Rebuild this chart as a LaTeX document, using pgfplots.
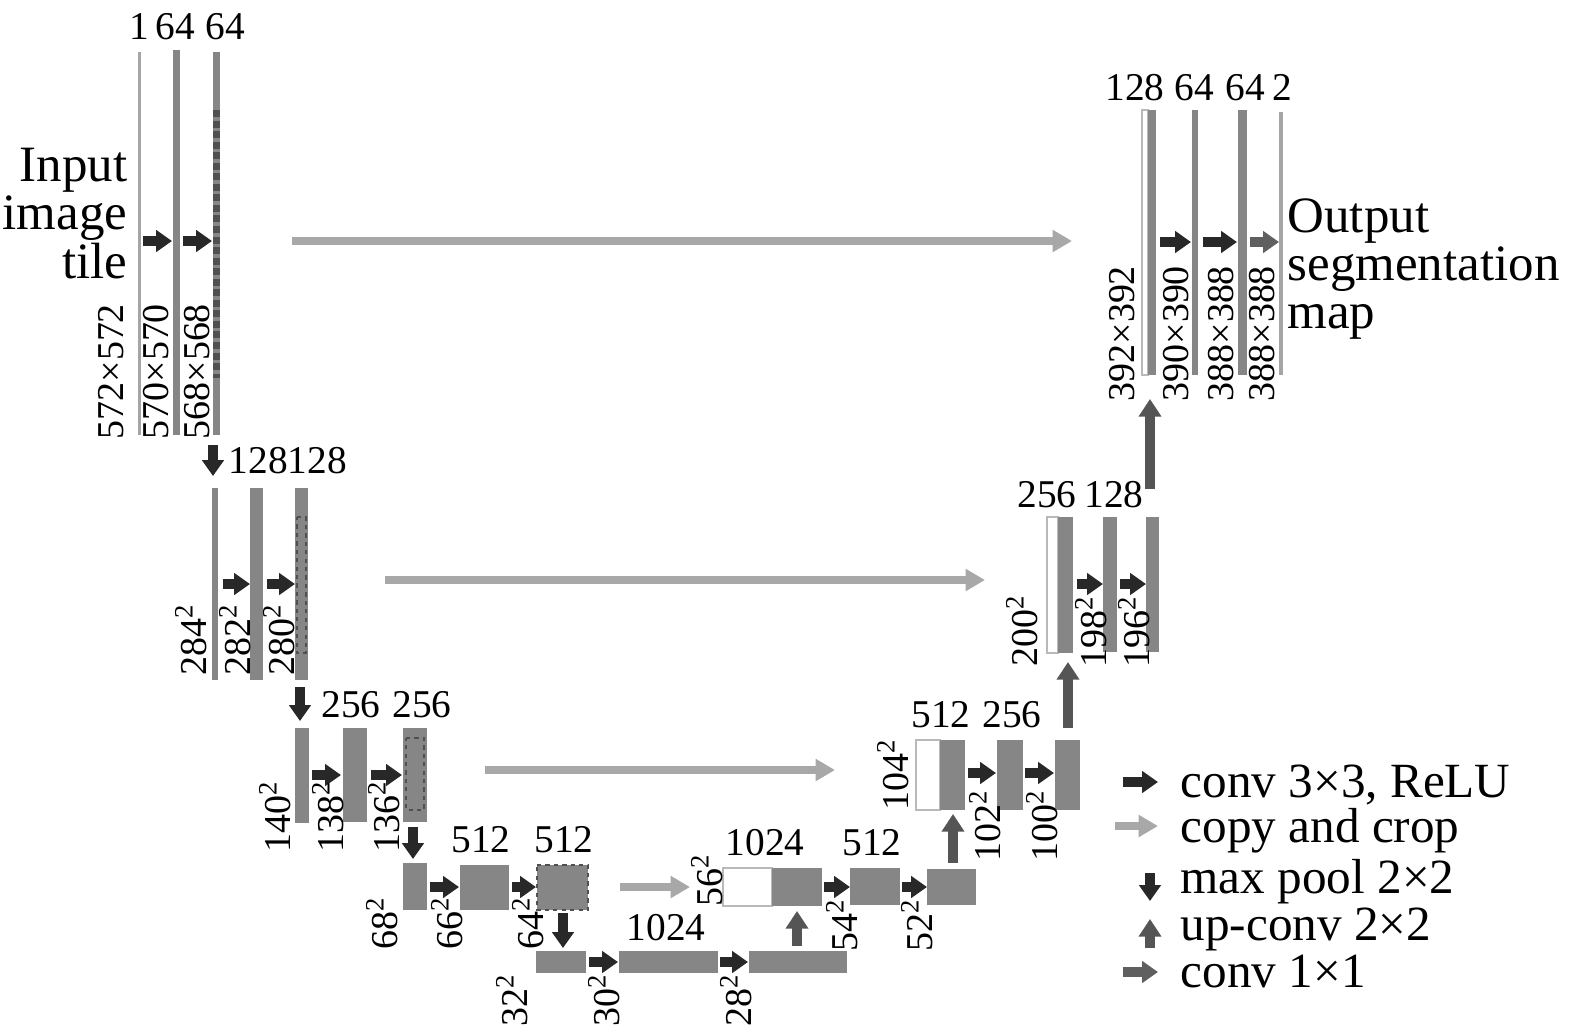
\documentclass[border=0pt]{standalone}
\usepackage{pgfplots}
\pgfplotsset{compat=1.18}
\usepackage{fontspec}
\setmainfont{Liberation Serif}
\usetikzlibrary{arrows.meta}

\definecolor{barc}{RGB}{134,134,134}
\definecolor{thinc}{RGB}{165,165,165}
\definecolor{convc}{RGB}{40,40,40}
\definecolor{copyc}{RGB}{168,168,168}
\definecolor{upc}{RGB}{85,85,85}
\definecolor{oneonec}{RGB}{95,95,95}
\definecolor{edgec}{RGB}{185,185,185}
\definecolor{dashc}{RGB}{80,80,80}

\newcommand{\fsnum}{\fontsize{11.2pt}{13pt}\selectfont}
\newcommand{\fsrot}{\fontsize{10.8pt}{13pt}\selectfont}
\newcommand{\fsbig}{\fontsize{14.5pt}{17pt}\selectfont}
\newcommand{\fsleg}{\fontsize{14pt}{17pt}\selectfont}

% block: [fill] x1 x2 y1 y2 (pixel coordinates, y downwards)
\newcommand{\blk}[5][barc]{\addplot[fill=#1,draw=none] coordinates {(#2,#4) (#3,#4) (#3,#5) (#2,#5)} -- cycle;}
\newcommand{\wblk}[4]{\addplot[fill=white,draw=edgec,line width=0.6pt] coordinates {(#1,#3) (#2,#3) (#2,#4) (#1,#4)} -- cycle;}
\newcommand{\dblk}[4]{\addplot[draw=dashc,line width=0.7pt,dash pattern=on 1.2pt off 1.2pt] coordinates {(#1,#3) (#2,#3) (#2,#4) (#1,#4)} -- cycle;}
% arrows
\newcommand{\conv}[4][convc]{\addplot[#1,line width=2.6pt,-{Triangle[width=6pt,length=4.5pt]}] coordinates {(#2,#4) (#3,#4)};}
\newcommand{\copyarr}[3]{\addplot[copyc,line width=2.4pt,-{Triangle[width=6pt,length=5.5pt]}] coordinates {(#1,#3) (#2,#3)};}
\newcommand{\pool}[3]{\addplot[convc,line width=2.8pt,-{Triangle[width=6pt,length=4.5pt]}] coordinates {(#1,#2) (#1,#3)};}
\newcommand{\up}[3]{\addplot[upc,line width=3pt,-{Triangle[width=6.2pt,length=5pt]}] coordinates {(#1,#2) (#1,#3)};}
% texts
\newcommand{\num}[3]{\node[anchor=base,inner sep=0pt,font=\fsnum] at (axis cs:#1,#2) {#3};}
\newcommand{\rl}[3]{\node[rotate=90,anchor=west,inner sep=0pt,font=\fsrot] at (axis cs:#1,#2) {#3};}
\newcommand{\sq}[1]{#1\textsuperscript{2}}

\begin{document}
\begin{tikzpicture}
\begin{axis}[
  width=15.75cm, height=10.35cm, scale only axis,
  xmin=0, xmax=1575, ymin=0, ymax=1035,
  y dir=reverse, hide axis, clip=false, no markers,
]
\addplot[draw=none] coordinates {(0,0) (1575,1035)};

% ---- contracting path ----
% level 1
\blk[thinc]{138}{141}{52}{435}
\blk{173}{180}{50}{435}
\blk{213}{220}{52}{435}
\addplot[dashc,line width=2pt,dash pattern=on 2pt off 1pt] coordinates {(216.5,110) (216.5,378)};
\conv{143}{172}{241}
\conv{183}{212}{241}
\num{139}{39}{1}
\num{175}{39}{64}
\num{225}{39}{64}
\rl{111}{440}{572×572}
\rl{156}{440}{570×570}
\rl{197}{440}{568×568}
\pool{213}{445}{476}

% level 2
\blk{212}{218}{488}{680}
\blk{250}{263}{488}{680}
\blk{295}{308}{488}{680}
\dblk{297}{306}{517}{653}
\conv{223}{250}{584}
\conv{267}{295}{584}
\node[anchor=base west,inner sep=0pt,font=\fsnum] at (axis cs:228,473) {128128};
\rl{191}{676}{\sq{284}}
\rl{235}{676}{\sq{282}}
\rl{279}{676}{\sq{280}}
\pool{300}{687}{721}

% level 3
\blk{295}{309}{728}{823}
\blk{343}{367}{728}{822}
\blk{403}{427}{728}{822}
\dblk{406}{424}{738}{810}
\conv{312}{341}{775}
\conv{371}{402}{775}
\num{351}{717}{256}
\num{422}{717}{256}
\rl{275}{853}{\sq{140}}
\rl{328}{853}{\sq{138}}
\rl{384}{853}{\sq{136}}
\pool{413}{827}{859}

% level 4
\blk{403}{427}{863}{910}
\blk{460}{509}{865}{910}
\blk{537}{588}{865}{910}
\dblk{537}{588}{865}{910}
\conv{430}{459}{887}
\conv{512}{536}{887}
\num{481}{852}{512}
\num{564}{852}{512}
\rl{382}{950}{\sq{68}}
\rl{447}{950}{\sq{66}}
\rl{528}{950}{\sq{64}}
\pool{563}{913}{948}

% level 5 (bottom)
\blk{536}{586}{951}{973}
\blk{619}{718}{951}{973}
\blk{749}{847}{951}{973}
\conv{589}{618}{962}
\conv{720}{748}{962}
\num{666}{940}{1024}
\rl{512}{1027}{\sq{32}}
\rl{604}{1027}{\sq{30}}
\rl{736}{1027}{\sq{28}}
\up{797}{946}{911}

% ---- expanding path ----
% level 4
\wblk{723}{772}{868}{906}
\blk{772}{822}{868}{906}
\blk{850}{900}{868}{905}
\blk{927}{976}{869}{905}
\conv{824}{850}{887}
\conv{902}{927}{887}
\num{765}{855}{1024}
\num{872}{855}{512}
\rl{707}{907}{\sq{56}}
\rl{842}{952}{\sq{54}}
\rl{917}{952}{\sq{52}}
\up{953}{863}{814}

% level 3
\wblk{916}{940}{740}{810}
\blk{940}{965}{740}{810}
\blk{997}{1023}{740}{810}
\blk{1055}{1080}{740}{810}
\conv{968}{996}{773}
\conv{1025}{1054}{773}
\num{941}{727}{512}
\num{1012}{727}{256}
\rl{893}{811}{\sq{104}}
\rl{985}{862}{\sq{102}}
\rl{1042}{862}{\sq{100}}
\up{1068}{728}{662}

% level 2
\wblk{1047}{1058}{517}{653}
\blk{1058}{1073}{517}{653}
\blk{1103}{1117}{517}{652}
\blk{1146}{1159}{517}{652}
\conv{1077}{1103}{584}
\conv{1120}{1146}{584}
\num{1047}{507}{256}
\num{1114}{507}{128}
\rl{1022}{667}{\sq{200}}
\rl{1091}{668}{\sq{198}}
\rl{1134}{668}{\sq{196}}
\up{1150}{489}{399}

% level 1
\wblk{1142}{1148}{110}{375}
\blk{1148}{1156}{110}{375}
\blk{1192}{1198}{110}{375}
\blk{1238}{1247}{110}{375}
\blk[thinc]{1279}{1283}{112}{375}
\conv{1160}{1191}{242}
\conv{1203}{1237}{242}
\conv[oneonec]{1250}{1279}{242}
\num{1135}{100}{128}
\num{1194}{100}{64}
\num{1245}{100}{64}
\num{1282}{100}{2}
\rl{1122}{402}{392×392}
\rl{1176}{402}{390×390}
\rl{1221}{402}{388×388}
\rl{1262}{402}{388×388}

% ---- copy and crop ----
\copyarr{292}{1072}{241}
\copyarr{385}{985}{580}
\copyarr{485}{835}{770}
\copyarr{620}{690}{887}

% ---- input / output text ----
\node[anchor=base east,inner sep=0pt,font=\fsbig] at (axis cs:128,181) {Input};
\node[anchor=base east,inner sep=0pt,font=\fsbig] at (axis cs:128,229) {image};
\node[anchor=base east,inner sep=0pt,font=\fsbig] at (axis cs:128,278) {tile};
\node[anchor=base west,inner sep=0pt,font=\fsbig] at (axis cs:1287,232) {Output};
\node[anchor=base west,inner sep=0pt,font=\fsbig] at (axis cs:1287,280) {segmentation};
\node[anchor=base west,inner sep=0pt,font=\fsbig] at (axis cs:1287,328) {map};

% ---- legend ----
\conv{1123}{1158}{782}
\copyarr{1115}{1158}{826}
\pool{1150}{873}{901}
\up{1150}{948}{919}
\conv[oneonec]{1123}{1158}{972}
\node[anchor=base west,inner sep=0pt,font=\fsleg] at (axis cs:1180,797) {conv 3×3, ReLU};
\node[anchor=base west,inner sep=0pt,font=\fsleg] at (axis cs:1180,842) {copy and crop};
\node[anchor=base west,inner sep=0pt,font=\fsleg] at (axis cs:1180,893) {max pool 2×2};
\node[anchor=base west,inner sep=0pt,font=\fsleg] at (axis cs:1180,940) {up-conv 2×2};
\node[anchor=base west,inner sep=0pt,font=\fsleg] at (axis cs:1180,987) {conv 1×1};
\end{axis}
\end{tikzpicture}
\end{document}
